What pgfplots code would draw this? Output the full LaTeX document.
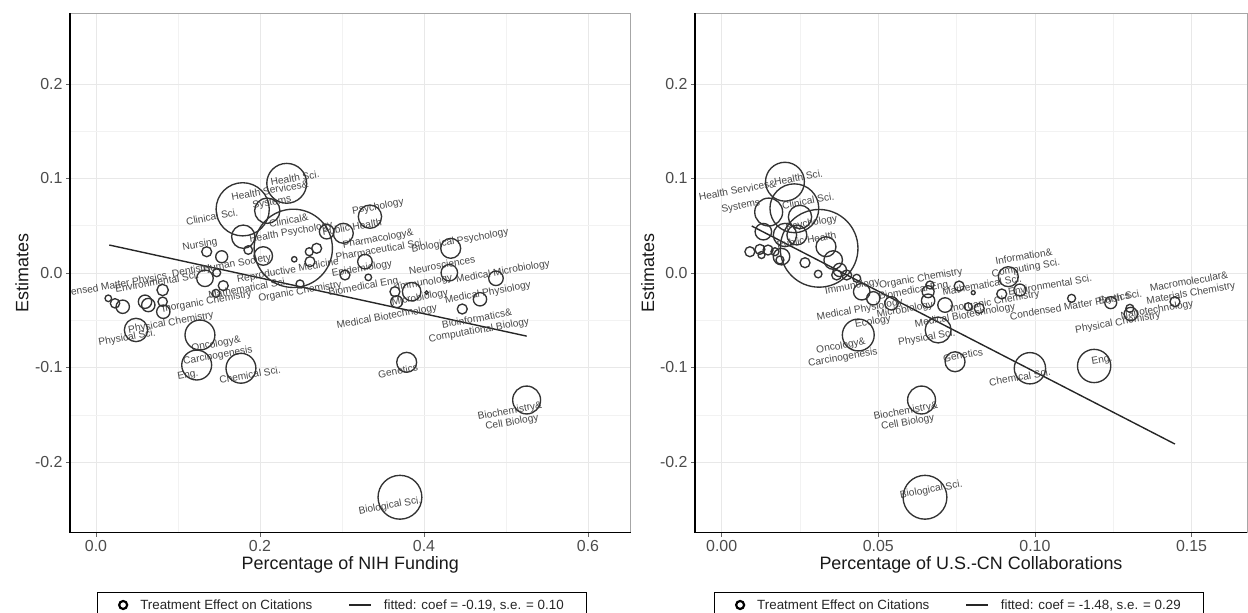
\documentclass[border=0pt]{standalone}
\usepackage{fontspec}
\setmainfont{Liberation Sans}
\usepackage{pgfplots}
\pgfplotsset{compat=1.18}

\pgfplotstableread{
x y r
0.2326 0.0949 20
0.1789 0.0674 26.7
0.2089 0.0659 12.7
0.3341 0.0596 11.7
0.1796 0.0384 11.7
0.2406 0.0261 39.3
0.2813 0.0437 7.3
0.3016 0.0420 10
0.1350 0.0225 5
0.1533 0.0172 6
0.1857 0.0243 4.3
0.2040 0.0180 9.3
0.2418 0.0145 2.7
0.2601 0.0225 4
0.2691 0.0261 5
0.2610 0.0120 5
0.3280 0.0120 7.3
0.1472 0.0003 4
0.1329 -0.0056 8.3
0.1552 -0.0134 5
0.1463 -0.0215 4
0.2488 -0.0116 4
0.3037 -0.0021 5
0.3321 -0.0046 3.3
0.4326 0.0261 10
0.4309 0.0003 8.3
0.4878 -0.0056 7.3
0.4683 -0.0278 6.7
0.4467 -0.0381 5
0.3850 -0.0198 9.3
0.3646 -0.0198 5
0.3667 -0.0304 6
0.4033 -0.0208 1.7
0.0813 -0.0180 5.7
0.0813 -0.0304 4.7
0.0150 -0.0268 3.3
0.0232 -0.0321 4.7
0.0326 -0.0357 6.7
0.0598 -0.0304 6.7
0.0638 -0.0339 6.7
0.0821 -0.0410 6.7
0.0488 -0.0603 11.7
0.1268 -0.0656 15
0.1228 -0.0974 15
0.1768 -0.1008 15
0.3789 -0.0945 10
0.5252 -0.1344 14
0.3707 -0.2373 22
}\leftdata

\pgfplotstableread{
x y r
0.0202 0.0966 19.5
0.0232 0.0685 24.5
0.0150 0.0645 14
0.0250 0.0593 11.7
0.0133 0.0437 8.3
0.0202 0.0402 11.7
0.0240 0.0402 10
0.0311 0.0261 39
0.0333 0.0278 10
0.0090 0.0225 5
0.0122 0.0250 5
0.0127 0.0190 3.5
0.0148 0.0243 5
0.0170 0.0225 4
0.0191 0.0173 8.3
0.0186 0.0138 4
0.0266 0.0109 5
0.0308 -0.0011 3.8
0.0356 0.0137 9.3
0.0377 0.0032 6.7
0.0367 -0.0021 5
0.0399 -0.0021 5
0.0431 -0.0056 4
0.0447 -0.0198 8.3
0.0484 -0.0268 6.7
0.0542 -0.0321 6.7
0.0665 -0.0127 4
0.0659 -0.0198 6
0.0659 -0.0293 6.7
0.0713 -0.0339 7.3
0.0758 -0.0138 5
0.0803 -0.0208 2
0.0787 -0.0357 4
0.0822 -0.0374 5
0.0894 -0.0222 5
0.0915 -0.0039 10
0.0952 -0.0180 6
0.1117 -0.0268 4
0.1242 -0.0314 6
0.1303 -0.0374 4
0.1306 -0.0434 6.7
0.1447 -0.0304 5
0.0691 -0.0603 13
0.0436 -0.0656 16
0.0745 -0.0939 10
0.0984 -0.1008 15.7
0.1189 -0.0984 16.7
0.0638 -0.1344 14
0.0649 -0.2373 22
}\rightdata

\tikzset{
  lbl/.style={rotate=10, font=\fontsize{10.2}{11.5}\selectfont, text=black!72, align=center, inner sep=0pt},
  leg/.style={draw=black, line width=0.8bp, fill=white, anchor=north,
    font=\fontsize{13.4}{15}\selectfont, text=black!85,
    inner xsep=21bp, inner ysep=5bp,
    /tikz/every odd column/.append style={column sep=10bp},
    /tikz/every even column/.append style={column sep=34bp}},
}

\pgfplotsset{
  panel/.style={
    scale only axis,
    height=519.4bp,
    ymin=-0.2748, ymax=0.2748,
    ytick={-0.2,-0.1,0,0.1,0.2},
    yticklabels={-0.2,-0.1,0.0,0.1,0.2},
    minor tick num=1,
    grid=both,
    major grid style={black!9, line width=0.7bp},
    minor grid style={black!5, line width=0.5bp},
    axis line style={draw=none},
    tick pos=left,
    tick align=outside,
    major tick length=4bp,
    minor tick length=0bp,
    tick style={black!60, line width=0.8bp},
    tick label style={font=\fontsize{16}{18}\selectfont, text=black!70},
    ylabel={Estimates},
    every axis y label/.style={at={(axis description cs:-0.0856,0.5)}, rotate=90, anchor=center,
      font=\fontsize{18}{20}\selectfont, text=black!90},
    every axis x label/.style={at={(axis description cs:0.5,-0.0622)}, anchor=center,
      font=\fontsize{18}{20}\selectfont, text=black!90},
    legend cell align=left,
    legend columns=2,
  },
  circ/.style={scatter, only marks, mark=o,
    scatter/use mapped color={draw=black!80, fill=none},
    mark options={line width=1.35bp},
    visualization depends on={\thisrow{r}\as\rr},
    scatter/@pre marker code/.append style={/tikz/mark size=\rr},
    forget plot},
  fit/.style={black!85, line width=1.4bp, forget plot},
  legline/.style={legend image code/.code={\draw[black!85, line width=1.5bp] (0bp,0bp) -- (22bp,0bp);}},
  legcirc/.style={legend image code/.code={\draw[black, line width=2.2bp] (5bp,0bp) circle[radius=4bp];}},
}

\begin{document}
\begin{tikzpicture}
\useasboundingbox (0,0) rectangle (1248bp,613bp);

% ---------------- left panel ----------------
\begin{axis}[panel, name=L, at={(70bp,80.3bp)}, anchor=south west,
  width=560.6bp,
  xmin=-0.0317, xmax=0.652,
  xtick={0,0.2,0.4,0.6}, xticklabels={0.0,0.2,0.4,0.6},
  xlabel={Percentage of NIH Funding},
  legend style={leg, at={(axis description cs:0.485,-0.1142)}},
]
\addlegendimage{legcirc}
\addlegendentry{Treatment Effect on Citations}
\addlegendimage{legline}
\addlegendentry{fitted: coef = -0.19, s.e. = 0.10\hspace{11bp}}

\addplot[circ] table[x=x, y=y] {\leftdata};
\addplot[fit] coordinates {(0.0162,0.0296) (0.5252,-0.0668)};

\node[lbl] at (axis cs:0.2427,0.1005) {Health Sci.};
\node[lbl] at (axis cs:0.2134,0.0804) {Health Services\&\\Systems};
\node[lbl] at (axis cs:0.1415,0.0593) {Clinical Sci.};
\node[lbl] at (axis cs:0.2366,0.0487) {Clinical\&\\Health Psychology};
\node[lbl] at (axis cs:0.3439,0.0698) {Psychology};
\node[lbl] at (axis cs:0.3122,0.0487) {Public Health};
\node[lbl] at (axis cs:0.3451,0.0307) {Pharmacology\&\\Pharmaceutical Sci.};
\node[lbl] at (axis cs:0.4439,0.0339) {Biological Psychology};
\node[lbl] at (axis cs:0.3244,0.0042) {Epidemiology};
\node[lbl] at (axis cs:0.4220,0.0085) {Neurosciences};
\node[lbl] at (axis cs:0.4963,0.0011) {Medical Microbiology};
\node[lbl] at (axis cs:0.3280,-0.0148) {Biomedical Eng.};
\node[lbl] at (axis cs:0.4012,-0.0106) {Immunology};
\node[lbl] at (axis cs:0.3951,-0.0265) {Microbiology};
\node[lbl] at (axis cs:0.4780,-0.0212) {Medical Physiology};
\node[lbl] at (axis cs:0.3549,-0.0466) {Medical Biotechnology};
\node[lbl] at (axis cs:0.4659,-0.0550) {Bioinformatics\&\\Computational Biology};
\node[lbl] at (axis cs:0.3683,-0.1037) {Genetics};
\node[lbl] at (axis cs:0.5061,-0.1524) {Biochemistry\&\\Cell Biology};
\node[lbl] at (axis cs:0.3585,-0.2466) {Biological Sci.};
\node[lbl] at (axis cs:0.1878,-0.1079) {Chemical Sci.};
\node[lbl] at (axis cs:0.1476,-0.0815) {Oncology\&\\Carcinogenesis};
\node[lbl] at (axis cs:0.1122,-0.1079) {Eng.};
\node[lbl] at (axis cs:0.0378,-0.0688) {Physical Sci.};
\node[lbl] at (axis cs:0.0915,-0.0529) {Physical Chemistry};
\node[lbl] at (axis cs:0.1354,-0.0307) {Inorganic Chemistry};
\node[lbl] at (axis cs:0.1854,-0.0159) {Mathematical Sci.};
\node[lbl] at (axis cs:0.2488,-0.0201) {Organic Chemistry};
\node[lbl] at (axis cs:0.0744,-0.0095) {Environmental Sci.};
\node[lbl] at (axis cs:0.0135,-0.0148) {Condensed Matter Physics};
\node[lbl] at (axis cs:0.1171,0.0021) {Dentistry};
\node[lbl] at (axis cs:0.1720,0.0095) {Human Society};
\node[lbl] at (axis cs:0.2341,0.0021) {Reproductive Medicine};
\node[lbl] at (axis cs:0.1268,0.0296) {Nursing};
\end{axis}
\draw[black!35, line width=0.9bp] (L.south west) rectangle (L.north east);
\draw[black, line width=1.6bp] (L.north west) -- (L.south west) -- (L.south east);

% ---------------- right panel ----------------
\begin{axis}[panel, name=R, at={(695bp,80.3bp)}, anchor=south west,
  width=552bp,
  xmin=-0.00852, xmax=0.1677,
  xtick={0,0.05,0.1,0.15}, xticklabels={0.00,0.05,0.10,0.15},
  xlabel={Percentage of U.S.-CN Collaborations},
  legend style={leg, at={(axis description cs:0.478,-0.1142)}},
]
\addlegendimage{legcirc}
\addlegendentry{Treatment Effect on Citations}
\addlegendimage{legline}
\addlegendentry{fitted: coef = -1.48, s.e. = 0.29\hspace{11bp}}

\addplot[circ] table[x=x, y=y] {\rightdata};
\addplot[fit] coordinates {(0.0096,0.0497) (0.1447,-0.1810)};

\node[lbl] at (axis cs:0.0245,0.1011) {Health Sci.};
\node[lbl] at (axis cs:0.0050,0.0878) {Health Services\&};
\node[lbl] at (axis cs:0.0061,0.0704) {Systems};
\node[lbl] at (axis cs:0.0276,0.0762) {Clinical Sci.};
\node[lbl] at (axis cs:0.0287,0.0525) {Psychology};
\node[lbl] at (axis cs:0.0271,0.0349) {Public Health};
\node[lbl] at (axis cs:0.0417,-0.0145) {Immunology};
\node[lbl] at (axis cs:0.0636,-0.0063) {Organic Chemistry};
\node[lbl] at (axis cs:0.0441,-0.0392) {Medical Physiology};
\node[lbl] at (axis cs:0.0483,-0.0519) {Ecology};
\node[lbl] at (axis cs:0.0585,-0.0392) {Microbiology};
\node[lbl] at (axis cs:0.0617,-0.0190) {Biomedical Eng.};
\node[lbl] at (axis cs:0.0384,-0.0836) {Oncology\&\\Carcinogenesis};
\node[lbl] at (axis cs:0.0655,-0.0688) {Physical Sci.};
\node[lbl] at (axis cs:0.0777,-0.0455) {Medical Biotechnology};
\node[lbl] at (axis cs:0.0770,-0.0868) {Genetics};
\node[lbl] at (axis cs:0.0591,-0.1524) {Biochemistry\&\\Cell Biology};
\node[lbl] at (axis cs:0.0669,-0.2296) {Biological Sci.};
\node[lbl] at (axis cs:0.0952,-0.1101) {Chemical Sci.};
\node[lbl] at (axis cs:0.1214,-0.0921) {Eng.};
\node[lbl] at (axis cs:0.0968,0.0106) {Information\&\\Computing Sci.};
\node[lbl] at (axis cs:0.0831,-0.0127) {Mathematical Sci.};
\node[lbl] at (axis cs:0.1048,-0.0127) {Environmental Sci.};
\node[lbl] at (axis cs:0.0872,-0.0307) {Inorganic Chemistry};
\node[lbl] at (axis cs:0.1112,-0.0360) {Condensed Matter Physics};
\node[lbl] at (axis cs:0.1272,-0.0254) {Earth Sci.};
\node[lbl] at (axis cs:0.1390,-0.0392) {Nanotechnology};
\node[lbl] at (axis cs:0.1265,-0.0529) {Physical Chemistry};
\node[lbl] at (axis cs:0.1495,-0.0159) {Macromolecular\&\\Materials Chemistry};
\end{axis}
\draw[black!35, line width=0.9bp] (R.south west) rectangle (R.north east);
\draw[black, line width=1.6bp] (R.north west) -- (R.south west) -- (R.south east);
\end{tikzpicture}
\end{document}
